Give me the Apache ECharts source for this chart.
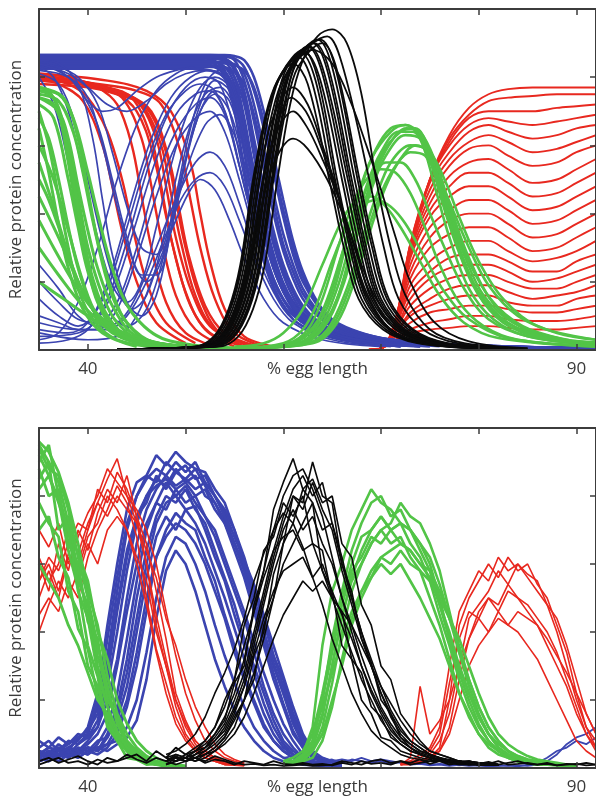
<!DOCTYPE html>
<html><head><meta charset="utf-8">
<script src="https://cdn.jsdelivr.net/npm/echarts@6/dist/echarts.min.js"></script>
<style>html,body{margin:0;padding:0;background:#fff}#c{width:596px;height:800px}</style>
</head><body><div id="c"></div>
<script>
// ---------- axis ticks / labels ----------
const xTicks = [40, 50, 60, 70, 80, 90];
const xLabels = [40, 90];
const xName = '% egg length';
const yName = 'Relative protein concentration';

// ---------- TOP PANEL (model) ----------
const tBlueX = [35,48,51,52.5,54,55,56,57,58,59,60,61,62,63.5,65,67,70,74,80,86,92];
const tBlueBand = [
 [0.86,0.86,0.86,0.85,0.8,0.7,0.53,0.37,0.26,0.18,0.13,0.09,0.07,0.05,0.04,0.03,0.02,0.015,0.01,0.006,0.004],
 [0.86,0.86,0.86,0.855,0.82,0.74,0.58,0.42,0.3,0.21,0.15,0.105,0.08,0.055,0.042,0.032,0.022,0.016,0.01,0.006,0.004],
 [0.825,0.825,0.825,0.82,0.8,0.75,0.64,0.5,0.38,0.27,0.19,0.14,0.1,0.068,0.05,0.036,0.024,0.017,0.011,0.007,0.004],
 [0.84,0.84,0.84,0.835,0.81,0.76,0.64,0.47,0.34,0.24,0.17,0.12,0.09,0.06,0.045,0.034,0.023,0.017,0.011,0.007,0.004],
 [0.85,0.85,0.85,0.848,0.83,0.78,0.66,0.5,0.36,0.25,0.18,0.125,0.095,0.063,0.047,0.035,0.024,0.017,0.011,0.007,0.004],
 [0.862,0.862,0.862,0.86,0.845,0.8,0.68,0.52,0.38,0.27,0.19,0.135,0.1,0.067,0.05,0.036,0.025,0.017,0.011,0.007,0.004],
 [0.835,0.835,0.835,0.835,0.83,0.8,0.72,0.57,0.43,0.31,0.22,0.155,0.11,0.075,0.055,0.04,0.026,0.018,0.012,0.007,0.005],
 [0.855,0.855,0.855,0.855,0.85,0.82,0.74,0.6,0.46,0.33,0.235,0.17,0.12,0.08,0.058,0.042,0.027,0.018,0.012,0.007,0.005],
 [0.86,0.86,0.86,0.86,0.855,0.83,0.76,0.62,0.48,0.35,0.25,0.18,0.13,0.085,0.06,0.043,0.028,0.019,0.012,0.007,0.005],
 [0.83,0.83,0.83,0.83,0.828,0.815,0.78,0.69,0.56,0.43,0.31,0.23,0.165,0.108,0.073,0.05,0.031,0.02,0.012,0.008,0.005],
 [0.865,0.865,0.865,0.865,0.862,0.85,0.79,0.67,0.53,0.4,0.29,0.21,0.15,0.1,0.068,0.047,0.03,0.02,0.012,0.008,0.005],
 [0.845,0.845,0.845,0.845,0.845,0.838,0.81,0.72,0.59,0.46,0.34,0.25,0.18,0.115,0.077,0.052,0.032,0.021,0.013,0.008,0.005],
 [0.84,0.84,0.84,0.84,0.84,0.835,0.82,0.77,0.67,0.54,0.41,0.3,0.215,0.135,0.088,0.058,0.035,0.022,0.013,0.008,0.005],
 [0.86,0.86,0.86,0.86,0.86,0.855,0.83,0.76,0.65,0.52,0.39,0.28,0.2,0.13,0.085,0.056,0.034,0.022,0.013,0.008,0.005],
 [0.865,0.865,0.865,0.865,0.865,0.862,0.85,0.8,0.7,0.57,0.44,0.32,0.23,0.14,0.09,0.06,0.035,0.022,0.013,0.008,0.005]
];
const tBlueFan = [
 [[35,0.02],[38,0.03],[40,0.06],[42,0.15],[44,0.32],[46,0.52],[48,0.68],[50,0.77],[52,0.8],[53.5,0.78],[55,0.64],[56.5,0.44],[58,0.28],[60,0.15],[63,0.07],[68,0.03],[76,0.01]],
 [[35,0.04],[39,0.05],[41,0.09],[43,0.2],[45,0.38],[47,0.56],[49,0.69],[51,0.75],[52.5,0.76],[54,0.7],[55.5,0.54],[57,0.37],[59,0.2],[61,0.11],[65,0.04],[72,0.01]],
 [[35,0.1],[37,0.08],[39,0.06],[41,0.06],[43,0.12],[45,0.27],[47,0.45],[49,0.6],[51,0.68],[52.5,0.7],[54,0.64],[55.5,0.5],[57,0.35],[59,0.19],[61,0.1],[65,0.04],[72,0.01]],
 [[35,0.25],[37,0.18],[39,0.1],[41,0.07],[43,0.08],[45,0.16],[47,0.3],[49,0.44],[51,0.55],[52.5,0.58],[54,0.54],[55.5,0.43],[57,0.3],[59,0.17],[61,0.09],[65,0.035],[72,0.01]],
 [[35,0.05],[40,0.03],[43,0.04],[45,0.1],[47,0.24],[49,0.38],[50.5,0.47],[51.5,0.5],[53,0.47],[54.5,0.38],[56,0.27],[58,0.15],[60,0.08],[64,0.03],[70,0.01]],
 [[35,0.83],[37,0.82],[39,0.77],[41,0.66],[42.5,0.5],[44,0.33],[45.5,0.22],[47,0.22],[48.5,0.35],[50,0.55],[51.5,0.7],[53,0.75],[54.5,0.7],[56,0.55],[57.5,0.38],[59.5,0.2],[62,0.09],[66,0.03],[74,0.01]],
 [[35,0.82],[38,0.8],[40,0.74],[41.5,0.6],[43,0.42],[44.5,0.27],[46,0.2],[47.5,0.26],[49,0.45],[50.5,0.65],[52,0.78],[53.5,0.82],[55,0.77],[56.5,0.6],[58,0.4],[60,0.2],[62.5,0.09],[67,0.03],[75,0.01]],
 [[35,0.84],[38,0.8],[40,0.73],[41.5,0.7],[43,0.71],[45,0.76],[47,0.8],[49,0.82],[51,0.83],[53,0.83],[54.5,0.8],[56,0.66],[57.5,0.46],[59,0.28],[61,0.14],[64,0.06],[70,0.02]],
 [[35,0.85],[37,0.84],[39,0.78],[40.5,0.62],[41.5,0.44],[42.5,0.28],[44,0.14],[45.5,0.1],[47,0.16],[48.5,0.35],[50,0.56],[51.5,0.72],[53,0.79],[54.5,0.76],[56,0.6],[57.5,0.42],[59.5,0.22],[62,0.1],[66,0.04],[74,0.01]],
 [[35,0.8],[36.5,0.72],[38,0.55],[39.5,0.36],[41,0.2],[42.5,0.1],[44,0.07],[46,0.12],[48,0.3],[50,0.52],[52,0.66],[53.5,0.69],[55,0.63],[56.5,0.48],[58,0.33],[60,0.17],[63,0.07],[68,0.02]],
 [[35,0.03],[37,0.05],[39,0.14],[41,0.3],[43,0.5],[45,0.66],[47,0.76],[49,0.81],[51,0.83],[53,0.83],[54.5,0.79],[56,0.64],[57.5,0.45],[59,0.28],[61,0.14],[64,0.06],[70,0.02]],
 [[35,0.15],[37,0.1],[39,0.07],[40.5,0.1],[42.5,0.24],[44.5,0.44],[46.5,0.62],[48.5,0.74],[50.5,0.8],[52.5,0.82],[54,0.8],[55.5,0.68],[57,0.49],[58.5,0.31],[60.5,0.16],[63.5,0.07],[69,0.02]],
 [[35,0.84],[37,0.83],[39,0.8],[41,0.72],[42.5,0.58],[44,0.42],[45.5,0.3],[47,0.28],[48.5,0.38],[50,0.56],[51.5,0.7],[53,0.76],[54.5,0.73],[56,0.58],[57.5,0.4],[59.5,0.21],[62,0.09],[66,0.03],[74,0.01]],
 [[35,0.06],[38,0.05],[40,0.08],[42,0.18],[44,0.36],[46,0.55],[48,0.69],[50,0.76],[51.5,0.78],[53,0.76],[54.5,0.66],[56,0.48],[57.5,0.32],[59.5,0.17],[62,0.08],[67,0.03],[75,0.01]],
 [[35,0.2],[37,0.14],[39,0.09],[41,0.08],[43,0.14],[45,0.3],[47,0.5],[49,0.64],[51,0.72],[52.5,0.74],[54,0.69],[55.5,0.54],[57,0.38],[59,0.21],[61,0.11],[65,0.04],[72,0.01]],
 [[35,0.83],[36.5,0.8],[38,0.7],[39.5,0.52],[41,0.33],[42.5,0.19],[44,0.14],[45.5,0.2],[47,0.36],[48.5,0.54],[50,0.68],[51.5,0.77],[53,0.8],[54.5,0.77],[56,0.62],[57.5,0.43],[59.5,0.23],[62,0.1],[66,0.04],[74,0.01]],
 [[35,0.08],[39,0.06],[42,0.06],[44,0.1],[46,0.2],[48,0.34],[49.5,0.44],[51,0.5],[52.5,0.52],[54,0.48],[55.5,0.38],[57,0.27],[59,0.15],[61,0.08],[65,0.03],[71,0.01]],
 [[35,0.84],[38,0.81],[40,0.77],[42,0.72],[44,0.7],[46,0.73],[48,0.78],[50,0.81],[52,0.82],[53.5,0.81],[55,0.74],[56.5,0.56],[58,0.36],[60,0.18],[63,0.07],[68,0.02]],
 [[35,0.81],[37,0.78],[38.5,0.68],[40,0.5],[41.5,0.32],[43,0.18],[44.5,0.12],[46,0.16],[47.5,0.3],[49,0.5],[50.5,0.66],[52,0.75],[53.5,0.77],[55,0.71],[56.5,0.54],[58,0.37],[60,0.19],[63,0.07],[68,0.02]]
];
const tRedLeft = [
 [[35,0.81],[38,0.8],[41,0.77],[43,0.72],[44.5,0.6],[45.5,0.45],[46.5,0.3],[48,0.14],[50,0.05],[53,0.01]],
 [[35,0.8],[38,0.79],[41,0.77],[43.5,0.74],[45.5,0.62],[46.5,0.48],[47.5,0.33],[49,0.16],[51,0.06],[54,0.01]],
 [[35,0.8],[39,0.79],[42,0.77],[44.5,0.74],[46.5,0.62],[47.5,0.48],[48.5,0.33],[50,0.17],[52,0.06],[55,0.01]],
 [[35,0.79],[39,0.78],[42,0.76],[45,0.73],[47,0.62],[48,0.48],[49,0.33],[50.5,0.18],[52.5,0.07],[56,0.01]],
 [[35,0.79],[40,0.78],[43,0.76],[45.5,0.72],[47.5,0.6],[48.5,0.46],[49.5,0.32],[51,0.16],[53,0.06],[57,0.01]],
 [[35,0.78],[40,0.77],[43,0.75],[46,0.71],[48,0.58],[49,0.44],[50,0.3],[51.5,0.15],[53.5,0.05],[57,0.01]],
 [[35,0.8],[41,0.78],[45,0.76],[47.5,0.72],[49.5,0.58],[50.5,0.44],[51.5,0.3],[53,0.15],[55,0.05],[58,0.01]],
 [[35,0.81],[42,0.79],[46,0.76],[48.5,0.7],[50.5,0.55],[51.5,0.4],[52.5,0.26],[54,0.12],[56,0.04],[59,0.01]],
 [[35,0.8],[38,0.78],[40,0.74],[42,0.64],[43.5,0.5],[44.5,0.37],[46,0.2],[48,0.08],[51,0.02]],
 [[35,0.79],[37,0.78],[39.5,0.73],[41.5,0.6],[42.5,0.48],[43.5,0.35],[45,0.2],[47,0.08],[50,0.02]],
 [[35,0.805],[39,0.79],[42.5,0.76],[45,0.7],[46.8,0.56],[47.8,0.42],[49,0.27],[50.5,0.13],[52.5,0.05],[56,0.01]],
 [[35,0.795],[40,0.78],[44,0.75],[46.5,0.7],[48.3,0.56],[49.3,0.42],[50.3,0.28],[52,0.13],[54,0.05],[57.5,0.01]]
];
const tGreenLeft = [
 [[35,0.77],[36,0.76],[37,0.7],[38,0.55],[39,0.38],[40,0.24],[41,0.14],[43,0.05],[46,0.015],[52,0.005]],
 [[35,0.74],[36.5,0.72],[38,0.6],[39,0.45],[40,0.3],[41.5,0.16],[43,0.08],[46,0.02],[54,0.005]],
 [[35,0.7],[36,0.6],[37,0.45],[38,0.3],[39,0.18],[40.5,0.09],[43,0.03],[48,0.005]],
 [[35,0.65],[36,0.52],[37,0.37],[38,0.24],[39.5,0.12],[41.5,0.05],[45,0.01]],
 [[35,0.77],[37.5,0.74],[39,0.62],[40,0.47],[41,0.32],[42.5,0.17],[44,0.08],[47,0.02],[55,0.005]],
 [[35,0.55],[36.5,0.42],[38,0.28],[39.5,0.17],[41.5,0.08],[44,0.03],[50,0.005]],
 [[35,0.45],[37,0.33],[39,0.2],[41,0.1],[44,0.04],[50,0.01]],
 [[35,0.3],[37,0.22],[39.5,0.13],[42,0.07],[46,0.02],[54,0.005]],
 [[35,0.75],[37,0.73],[38.5,0.64],[39.5,0.52],[40.5,0.38],[42,0.2],[43.5,0.1],[46,0.03],[52,0.005]],
 [[35,0.6],[36.5,0.5],[38,0.35],[39.5,0.2],[41,0.1],[43.5,0.04],[48,0.01]],
 [[35,0.2],[37.5,0.15],[40,0.1],[43,0.05],[47,0.02],[54,0.005]],
 [[35,0.72],[36.5,0.68],[38,0.5],[39,0.36],[40,0.23],[41.5,0.12],[44,0.04],[50,0.01]],
 [[35,0.76],[37,0.75],[38.5,0.68],[40,0.52],[41,0.4],[42.5,0.24],[44.5,0.11],[48,0.03],[56,0.005]],
 [[35,0.76],[36.5,0.74],[37.5,0.66],[38.5,0.5],[39.5,0.34],[40.5,0.21],[42,0.1],[44.5,0.03],[50,0.005]],
 [[35,0.68],[36,0.62],[37,0.5],[38,0.36],[39,0.24],[40.5,0.12],[42.5,0.05],[47,0.01]],
 [[35,0.5],[36,0.44],[37.5,0.32],[39,0.2],[40.5,0.12],[42.5,0.06],[46,0.02],[52,0.005]],
 [[35,0.38],[36.5,0.3],[38.5,0.2],[40.5,0.12],[43,0.06],[47,0.02],[54,0.005]],
 [[35,0.74],[37,0.7],[38,0.62],[39,0.48],[40,0.35],[41,0.24],[42.5,0.13],[45,0.04],[51,0.005]]
];
const tGreenMid = [
 [[55,0.005],[60,0.015],[62.5,0.05],[64.5,0.14],[66,0.28],[67.5,0.44],[69,0.56],[71,0.64],[72.5,0.66],[74,0.62],[75.5,0.48],[77,0.33],[79,0.18],[81.5,0.09],[85,0.04],[92,0.015]],
 [[55,0.005],[61,0.015],[63.5,0.05],[65.5,0.15],[67,0.3],[68.5,0.45],[70,0.57],[72,0.64],[73.5,0.65],[75,0.58],[76.5,0.44],[78,0.3],[80,0.17],[83,0.08],[87,0.035],[92,0.018]],
 [[55,0.005],[61.5,0.015],[64,0.06],[66,0.18],[67.5,0.33],[69,0.47],[70.5,0.57],[72.5,0.63],[74,0.62],[75.5,0.53],[77,0.4],[78.5,0.28],[80.5,0.16],[83.5,0.08],[88,0.03],[92,0.02]],
 [[55,0.005],[62,0.015],[64.5,0.06],[66.5,0.18],[68,0.32],[69.5,0.45],[71,0.55],[73,0.6],[74.5,0.59],[76,0.5],[77.5,0.37],[79.5,0.23],[82,0.12],[85,0.06],[89,0.03],[92,0.022]],
 [[55,0.005],[60.5,0.02],[62.5,0.06],[64,0.15],[65.5,0.29],[67,0.42],[68.5,0.5],[70,0.53],[71.5,0.52],[73,0.46],[74.5,0.36],[76,0.25],[78,0.14],[80.5,0.07],[84,0.03],[92,0.012]],
 [[55,0.005],[62.5,0.02],[65,0.07],[67,0.2],[68.5,0.34],[70,0.46],[71.5,0.54],[73,0.58],[74.5,0.57],[76,0.5],[77.5,0.4],[79,0.3],[81,0.19],[84,0.1],[88,0.05],[92,0.03]],
 [[55,0.01],[58,0.02],[60,0.05],[62,0.12],[64,0.25],[66,0.38],[67.5,0.44],[69,0.45],[70.5,0.42],[72,0.36],[74,0.26],[76,0.16],[78.5,0.08],[82,0.035],[92,0.01]],
 [[55,0.005],[61,0.015],[63,0.05],[65,0.16],[66.5,0.32],[68,0.48],[69.5,0.59],[71,0.65],[72.5,0.66],[74,0.63],[75.5,0.52],[77,0.38],[78.5,0.26],[80.5,0.14],[83.5,0.07],[88,0.03],[92,0.02]],
 [[55,0.005],[63,0.02],[65.5,0.08],[67.5,0.22],[69,0.36],[70.5,0.48],[72,0.56],[73.5,0.6],[75,0.58],[76.5,0.5],[78,0.39],[80,0.26],[82.5,0.15],[86,0.07],[92,0.03]],
 [[55,0.005],[61,0.02],[63,0.06],[64.5,0.15],[66,0.28],[67.5,0.4],[69,0.5],[70.5,0.55],[72,0.55],[73.5,0.5],[75,0.4],[76.5,0.3],[78.5,0.18],[81,0.09],[85,0.04],[92,0.015]],
 [[55,0.005],[61.5,0.02],[63.8,0.07],[65.5,0.18],[67,0.33],[68.5,0.48],[70,0.58],[71.8,0.64],[73.2,0.64],[74.8,0.57],[76.3,0.43],[77.8,0.3],[79.8,0.17],[82.5,0.08],[86.5,0.035],[92,0.02]],
 [[55,0.005],[62,0.02],[64.2,0.07],[66,0.19],[67.6,0.35],[69.2,0.5],[70.8,0.6],[72.6,0.65],[74,0.64],[75.6,0.55],[77.2,0.41],[79,0.27],[81.2,0.15],[84.5,0.07],[89,0.03],[92,0.022]],
 [[55,0.005],[60,0.02],[62,0.06],[63.5,0.14],[65,0.26],[66.5,0.36],[68,0.42],[69.5,0.44],[71,0.42],[72.5,0.37],[74.5,0.27],[76.5,0.17],[79,0.09],[83,0.035],[92,0.01]]
];
const tRedRightX = [68,70,71.5,73,75,77,79,81,83,85.5,88,90,92];
const tRedRight = [
 [0,0.005,0.06,0.28,0.5,0.63,0.71,0.75,0.765,0.77,0.77,0.77,0.77],
 [0,0.005,0.07,0.3,0.5,0.62,0.69,0.73,0.74,0.745,0.75,0.75,0.75],
 [0,0.005,0.08,0.3,0.5,0.61,0.68,0.7,0.7,0.7,0.71,0.715,0.72],
 [0,0.005,0.08,0.31,0.5,0.6,0.66,0.68,0.67,0.66,0.67,0.68,0.69],
 [0,0.005,0.08,0.31,0.49,0.58,0.64,0.66,0.64,0.62,0.63,0.65,0.66],
 [0,0.005,0.09,0.31,0.47,0.56,0.61,0.63,0.61,0.58,0.59,0.61,0.63],
 [0,0.005,0.09,0.3,0.45,0.54,0.59,0.6,0.57,0.54,0.55,0.58,0.6],
 [0,0.005,0.09,0.29,0.43,0.51,0.55,0.56,0.53,0.49,0.5,0.53,0.56],
 [0,0.005,0.09,0.28,0.41,0.48,0.52,0.52,0.49,0.45,0.46,0.49,0.52],
 [0,0.005,0.09,0.27,0.39,0.45,0.48,0.48,0.45,0.41,0.42,0.45,0.48],
 [0,0.005,0.09,0.25,0.36,0.41,0.44,0.44,0.41,0.37,0.38,0.41,0.44],
 [0,0.005,0.08,0.23,0.33,0.38,0.4,0.4,0.37,0.33,0.34,0.37,0.4],
 [0,0.005,0.08,0.21,0.3,0.34,0.36,0.36,0.33,0.29,0.3,0.33,0.36],
 [0,0.005,0.07,0.19,0.26,0.3,0.32,0.32,0.29,0.26,0.27,0.29,0.32],
 [0,0.005,0.07,0.17,0.23,0.27,0.28,0.28,0.26,0.23,0.23,0.26,0.28],
 [0,0.005,0.06,0.15,0.21,0.24,0.25,0.25,0.23,0.2,0.21,0.23,0.25],
 [0,0.005,0.06,0.13,0.18,0.21,0.22,0.22,0.2,0.18,0.18,0.2,0.22],
 [0,0.005,0.05,0.11,0.15,0.18,0.19,0.19,0.17,0.15,0.16,0.17,0.19],
 [0,0.005,0.05,0.1,0.13,0.15,0.16,0.16,0.14,0.13,0.13,0.15,0.16],
 [0,0.005,0.04,0.08,0.11,0.12,0.13,0.13,0.12,0.11,0.11,0.12,0.13],
 [0,0.005,0.03,0.06,0.08,0.09,0.1,0.1,0.09,0.085,0.085,0.09,0.1],
 [0,0.005,0.03,0.05,0.06,0.065,0.07,0.07,0.065,0.06,0.06,0.065,0.07]
];
const tBlack = [
 [[43,0.003],[51,0.01],[53,0.04],[54.5,0.12],[55.7,0.25],[57,0.5],[58.3,0.69],[59.5,0.79],[61.5,0.86],[63,0.78],[65,0.5],[66.5,0.3],[68,0.15],[70.5,0.06],[74,0.02],[80,0.005]],
 [[43,0.003],[51.1,0.01],[53.1,0.04],[54.6,0.12],[55.8,0.25],[57.1,0.5],[58.4,0.7],[59.6,0.8],[61.8,0.87],[63.3,0.79],[65.3,0.5],[66.8,0.3],[68.3,0.15],[70.8,0.06],[74.3,0.02],[80,0.005]],
 [[43,0.003],[51.3,0.01],[53.3,0.04],[54.8,0.12],[56,0.25],[57.3,0.5],[58.6,0.7],[59.8,0.81],[62,0.88],[63.5,0.8],[65.5,0.5],[67,0.3],[68.5,0.15],[71,0.06],[74.5,0.02],[81,0.005]],
 [[43,0.003],[51.6,0.01],[53.6,0.04],[55.1,0.12],[56.3,0.25],[57.6,0.5],[58.9,0.7],[60.1,0.8],[62.3,0.87],[63.8,0.79],[66,0.5],[67.5,0.3],[69,0.15],[71.5,0.06],[75,0.02],[81,0.005]],
 [[43,0.003],[51.9,0.01],[53.9,0.04],[55.4,0.12],[56.6,0.25],[57.9,0.5],[59.2,0.71],[60.4,0.83],[62.7,0.89],[64.2,0.81],[66.6,0.5],[68.1,0.3],[69.6,0.15],[72.1,0.06],[75.6,0.02],[82,0.005]],
 [[43,0.003],[52,0.01],[54,0.04],[55.5,0.12],[56.7,0.25],[58,0.5],[59.3,0.71],[60.5,0.82],[62.5,0.89],[64,0.81],[66.3,0.5],[67.8,0.3],[69.3,0.15],[71.8,0.06],[75.3,0.02],[82,0.005]],
 [[43,0.003],[52.3,0.01],[54.3,0.04],[55.8,0.12],[57,0.25],[58.3,0.5],[59.6,0.71],[60.8,0.83],[63,0.9],[64.5,0.82],[66.8,0.5],[68.3,0.3],[69.8,0.15],[72.3,0.06],[75.8,0.02],[82,0.005]],
 [[43,0.003],[52.5,0.01],[54.5,0.04],[56,0.12],[57.2,0.25],[58.5,0.5],[59.8,0.72],[61,0.84],[63.2,0.9],[64.7,0.82],[67,0.5],[68.5,0.3],[70,0.15],[72.5,0.06],[76,0.02],[83,0.005]],
 [[43,0.003],[52.6,0.01],[54.6,0.04],[56.1,0.12],[57.3,0.25],[58.6,0.5],[59.9,0.72],[61.1,0.84],[63.5,0.91],[65,0.83],[67.3,0.5],[68.8,0.3],[70.3,0.15],[72.8,0.06],[76.3,0.02],[83,0.005]],
 [[43,0.003],[52.9,0.01],[54.9,0.04],[56.4,0.12],[57.6,0.25],[58.9,0.5],[60.2,0.72],[61.4,0.85],[63.8,0.91],[65.3,0.83],[67.6,0.5],[69.1,0.3],[70.6,0.15],[73.1,0.06],[76.6,0.02],[83,0.005]],
 [[43,0.003],[53,0.01],[55,0.04],[56.5,0.12],[57.7,0.25],[59,0.5],[60.3,0.71],[61.5,0.83],[64,0.9],[65.5,0.82],[67.8,0.5],[69.3,0.3],[70.8,0.15],[73.3,0.06],[76.8,0.02],[83,0.005]],
 [[43,0.003],[53.4,0.01],[55.4,0.04],[56.9,0.12],[58.1,0.25],[59.4,0.5],[60.7,0.72],[62,0.85],[63.5,0.92],[65,0.94],[66.5,0.9],[68,0.75],[69.5,0.5],[71,0.3],[72.5,0.16],[75,0.06],[78.5,0.02],[85,0.005]],
 [[43,0.003],[52.8,0.01],[54.8,0.04],[56.3,0.12],[57.5,0.25],[58.8,0.5],[60.1,0.72],[61.3,0.84],[63,0.9],[64.5,0.92],[66,0.84],[68.8,0.5],[70.3,0.3],[71.8,0.15],[74.3,0.06],[77.8,0.02],[84,0.005]],
 [[43,0.003],[51.5,0.01],[53.5,0.04],[55,0.12],[56.2,0.25],[57.5,0.5],[58.8,0.67],[61,0.77],[62.5,0.72],[64,0.6],[65.5,0.47],[67,0.3],[68.5,0.16],[71,0.06],[74.5,0.02],[81,0.005]],
 [[43,0.003],[51.7,0.01],[53.7,0.04],[55.2,0.12],[56.4,0.25],[57.7,0.46],[59,0.62],[60.8,0.74],[62.3,0.7],[63.8,0.6],[65.5,0.46],[67,0.31],[68.5,0.17],[71,0.06],[74.5,0.02],[81,0.005]],
 [[43,0.003],[51.8,0.01],[53.8,0.04],[55.3,0.12],[56.5,0.25],[57.8,0.48],[59.2,0.63],[61,0.7],[62.5,0.65],[64,0.56],[66,0.42],[67.5,0.28],[69,0.16],[71.5,0.06],[75,0.02],[81,0.005]],
 [[43,0.003],[52,0.01],[54,0.04],[55.5,0.12],[56.7,0.25],[58,0.45],[59.4,0.57],[61,0.62],[62.5,0.59],[64.5,0.5],[66.5,0.37],[68,0.25],[69.5,0.15],[72,0.06],[75.5,0.02],[82,0.005]],
 [[43,0.003],[50.9,0.01],[52.9,0.04],[54.4,0.12],[55.6,0.25],[56.9,0.5],[58.2,0.69],[59.4,0.79],[61,0.84],[62.5,0.78],[64.7,0.5],[66.2,0.3],[67.7,0.15],[70.2,0.06],[73.7,0.02],[80,0.005]],
 [[43,0.003],[52.2,0.01],[54.2,0.04],[55.7,0.12],[56.9,0.25],[58.2,0.5],[59.5,0.71],[60.7,0.82],[63,0.88],[65,0.84],[67,0.72],[68.5,0.6],[70,0.47],[71.5,0.33],[73,0.2],[75.5,0.08],[79,0.025],[85,0.005]]
];

// ---------- BOTTOM PANEL (data) ----------
const bBlueX = [35,36,37,38,39,40,41,42,43,44,45,46,47,48,49,50,51,52,53,54,55,56,57,58,59,60,61,62,63,64,65,66];
const bBlue = [
 [0.03,0.05,0.04,0.06,0.08,0.12,0.22,0.42,0.6,0.76,0.84,0.86,0.92,0.89,0.93,0.9,0.88,0.87,0.82,0.78,0.7,0.62,0.52,0.44,0.33,0.26,0.16,0.09,0.04,0.025,0.02,0.015],
 [0.05,0.04,0.07,0.05,0.09,0.1,0.18,0.33,0.52,0.7,0.8,0.86,0.84,0.9,0.87,0.89,0.85,0.86,0.8,0.76,0.7,0.6,0.5,0.4,0.3,0.22,0.14,0.07,0.04,0.02,0.015,0.01],
 [0.04,0.06,0.05,0.08,0.07,0.1,0.2,0.38,0.56,0.72,0.8,0.85,0.88,0.86,0.9,0.87,0.9,0.84,0.8,0.75,0.68,0.61,0.54,0.45,0.36,0.27,0.18,0.1,0.05,0.03,0.02,0.015],
 [0.05,0.03,0.06,0.04,0.07,0.09,0.14,0.27,0.46,0.62,0.74,0.78,0.86,0.82,0.87,0.85,0.88,0.83,0.78,0.73,0.66,0.58,0.49,0.4,0.31,0.22,0.13,0.07,0.04,0.02,0.015,0.01],
 [0.02,0.03,0.02,0.04,0.05,0.08,0.12,0.24,0.4,0.58,0.72,0.8,0.85,0.83,0.88,0.84,0.86,0.8,0.78,0.72,0.64,0.56,0.46,0.36,0.26,0.18,0.1,0.06,0.03,0.02,0.01,0.01],
 [0.08,0.06,0.09,0.07,0.1,0.09,0.12,0.2,0.32,0.5,0.66,0.76,0.82,0.86,0.83,0.85,0.82,0.84,0.8,0.74,0.66,0.58,0.48,0.38,0.28,0.19,0.11,0.06,0.03,0.02,0.015,0.01],
 [0.03,0.05,0.03,0.06,0.05,0.07,0.1,0.16,0.3,0.46,0.6,0.72,0.78,0.76,0.82,0.78,0.8,0.74,0.7,0.62,0.54,0.46,0.37,0.28,0.2,0.13,0.08,0.04,0.02,0.015,0.01,0.008],
 [0.03,0.02,0.04,0.03,0.05,0.04,0.07,0.12,0.22,0.38,0.55,0.7,0.78,0.84,0.8,0.83,0.78,0.74,0.68,0.6,0.52,0.44,0.34,0.24,0.16,0.1,0.06,0.03,0.02,0.01,0.01,0.008],
 [0.02,0.04,0.03,0.05,0.04,0.06,0.05,0.1,0.18,0.32,0.5,0.64,0.74,0.8,0.78,0.82,0.76,0.72,0.64,0.56,0.48,0.38,0.3,0.22,0.14,0.08,0.05,0.03,0.02,0.012,0.01,0.008],
 [0.04,0.06,0.05,0.03,0.05,0.06,0.05,0.09,0.16,0.28,0.44,0.6,0.72,0.78,0.8,0.76,0.77,0.7,0.62,0.55,0.45,0.36,0.28,0.19,0.12,0.07,0.04,0.03,0.02,0.01,0.008,0.006],
 [0.04,0.03,0.05,0.04,0.06,0.05,0.08,0.09,0.14,0.24,0.4,0.56,0.68,0.74,0.7,0.76,0.72,0.66,0.58,0.5,0.41,0.32,0.24,0.16,0.1,0.06,0.04,0.025,0.015,0.01,0.008,0.006],
 [0.03,0.02,0.04,0.05,0.03,0.05,0.06,0.07,0.12,0.2,0.34,0.5,0.62,0.68,0.72,0.7,0.66,0.6,0.52,0.44,0.34,0.26,0.19,0.12,0.08,0.05,0.03,0.02,0.015,0.01,0.008,0.006],
 [0.02,0.03,0.02,0.04,0.03,0.05,0.04,0.06,0.1,0.18,0.3,0.46,0.62,0.7,0.75,0.72,0.7,0.62,0.55,0.45,0.36,0.27,0.2,0.13,0.08,0.05,0.03,0.02,0.01,0.01,0.006,0.005],
 [0.05,0.04,0.06,0.05,0.04,0.06,0.05,0.07,0.08,0.12,0.2,0.34,0.5,0.62,0.68,0.66,0.6,0.52,0.42,0.33,0.25,0.18,0.12,0.08,0.05,0.03,0.02,0.015,0.01,0.008,0.006,0.005],
 [0.03,0.05,0.04,0.06,0.05,0.04,0.06,0.05,0.07,0.09,0.14,0.26,0.44,0.58,0.64,0.6,0.52,0.42,0.32,0.24,0.17,0.12,0.08,0.05,0.03,0.02,0.015,0.01,0.008,0.006,0.005,0.005],
 [0.06,0.08,0.05,0.07,0.09,0.11,0.16,0.3,0.48,0.64,0.74,0.8,0.83,0.85,0.82,0.84,0.8,0.82,0.76,0.72,0.66,0.6,0.52,0.43,0.33,0.24,0.15,0.08,0.04,0.02,0.015,0.01]
];
const bBlueTailX = [60,61,62,63,64,65,66,67,68,69,70,71,72,73,74,75,76,77,78,79,80,81,82,83,84,85,86,87,88,89,90,91,92];
const bBlueTail = [
 [0.05,0.04,0.03,0.025,0.03,0.02,0.025,0.02,0.03,0.02,0.025,0.02,0.015,0.02,0.015,0.01,0.012,0.01,0.008,0.01,0.008,0.006,0.008,0.006,0.008,0.006,0.01,0.02,0.04,0.07,0.09,0.1,0.12],
 [0.03,0.035,0.02,0.03,0.02,0.025,0.015,0.025,0.02,0.015,0.02,0.012,0.018,0.01,0.012,0.008,0.01,0.006,0.009,0.006,0.008,0.005,0.006,0.008,0.005,0.01,0.015,0.03,0.05,0.06,0.08,0.07,0.09]
];
const bRedLeftX = [35,36,37,38,39,40,41,42,43,44,45,46,47,48,49,50,51,52,53,54,55,56];
const bRedLeft = [
 [0.55,0.6,0.52,0.63,0.6,0.7,0.78,0.85,0.91,0.8,0.72,0.6,0.42,0.3,0.18,0.1,0.06,0.03,0.02,0.012,0.01,0.008],
 [0.6,0.52,0.66,0.58,0.7,0.64,0.75,0.82,0.78,0.86,0.74,0.66,0.52,0.38,0.22,0.14,0.08,0.05,0.03,0.02,0.012,0.01],
 [0.45,0.5,0.46,0.55,0.5,0.62,0.7,0.76,0.83,0.78,0.68,0.5,0.35,0.25,0.15,0.09,0.05,0.03,0.02,0.01,0.01,0.008],
 [0.7,0.65,0.72,0.6,0.68,0.75,0.8,0.88,0.84,0.8,0.76,0.7,0.6,0.46,0.33,0.22,0.14,0.08,0.05,0.03,0.02,0.012],
 [0.5,0.58,0.5,0.62,0.56,0.66,0.6,0.7,0.74,0.7,0.62,0.55,0.4,0.3,0.2,0.12,0.07,0.04,0.025,0.015,0.01,0.008],
 [0.62,0.55,0.6,0.7,0.63,0.72,0.78,0.74,0.8,0.76,0.72,0.64,0.56,0.44,0.36,0.26,0.18,0.12,0.07,0.04,0.025,0.015],
 [0.4,0.48,0.55,0.5,0.58,0.68,0.72,0.8,0.76,0.7,0.6,0.48,0.34,0.22,0.13,0.08,0.05,0.03,0.02,0.01,0.008,0.006],
 [0.55,0.62,0.58,0.66,0.72,0.7,0.82,0.78,0.87,0.82,0.74,0.6,0.45,0.32,0.2,0.13,0.08,0.05,0.03,0.02,0.012,0.01]
];
const bGreenLeftX = [35,36,37,38,39,40,41,42,43,44,45,46,47,48,49,50];
const bGreenLeft = [
 [0.95,0.9,0.84,0.72,0.58,0.45,0.3,0.18,0.1,0.05,0.03,0.02,0.01,0.01,0.005,0.005],
 [0.92,0.86,0.79,0.64,0.53,0.36,0.27,0.12,0.08,0.03,0.025,0.01,0.012,0.005,0.008,0.004],
 [0.85,0.9,0.7,0.74,0.55,0.48,0.33,0.22,0.14,0.07,0.04,0.03,0.015,0.01,0.005,0.005],
 [0.78,0.72,0.68,0.52,0.46,0.3,0.24,0.13,0.09,0.05,0.03,0.02,0.01,0.01,0.005,0.003],
 [0.96,0.93,0.87,0.78,0.66,0.52,0.42,0.27,0.16,0.1,0.06,0.035,0.02,0.012,0.008,0.005],
 [0.7,0.74,0.62,0.56,0.41,0.35,0.21,0.15,0.08,0.05,0.025,0.015,0.01,0.005,0.005,0.003],
 [0.88,0.8,0.82,0.66,0.6,0.43,0.38,0.2,0.15,0.08,0.05,0.03,0.02,0.01,0.008,0.005],
 [0.6,0.55,0.5,0.42,0.36,0.28,0.2,0.16,0.1,0.06,0.04,0.025,0.015,0.01,0.006,0.004],
 [0.9,0.95,0.8,0.7,0.63,0.55,0.4,0.32,0.2,0.13,0.08,0.05,0.03,0.015,0.01,0.006],
 [0.94,0.88,0.86,0.76,0.62,0.5,0.36,0.24,0.13,0.07,0.04,0.025,0.015,0.01,0.006,0.004],
 [0.82,0.86,0.78,0.7,0.52,0.44,0.28,0.18,0.11,0.06,0.035,0.02,0.012,0.008,0.005,0.004]
];
const bBlackX = [48,49,50,51,52,53,54,55,56,57,58,59,60,61,62,63,64,65,66,67,68,69,70,71,72,73,74,75,76,77,78,79,80,81,82];
const bBlack = [
 [0.02,0.03,0.02,0.04,0.06,0.1,0.14,0.25,0.3,0.48,0.58,0.76,0.84,0.91,0.82,0.78,0.58,0.52,0.36,0.32,0.2,0.16,0.09,0.08,0.05,0.04,0.03,0.025,0.02,0.02,0.015,0.02,0.015,0.01,0.01],
 [0.01,0.02,0.03,0.02,0.04,0.06,0.09,0.15,0.2,0.33,0.4,0.57,0.66,0.8,0.78,0.9,0.8,0.78,0.6,0.52,0.38,0.31,0.2,0.16,0.09,0.07,0.05,0.04,0.03,0.02,0.02,0.015,0.01,0.01,0.01],
 [0.03,0.02,0.04,0.05,0.08,0.12,0.2,0.26,0.42,0.5,0.64,0.68,0.78,0.74,0.8,0.66,0.64,0.5,0.46,0.32,0.28,0.18,0.15,0.09,0.07,0.05,0.04,0.03,0.025,0.02,0.02,0.015,0.015,0.01,0.01],
 [0.02,0.03,0.02,0.03,0.05,0.07,0.1,0.16,0.24,0.34,0.44,0.52,0.58,0.6,0.62,0.56,0.6,0.52,0.45,0.38,0.3,0.23,0.17,0.12,0.08,0.06,0.04,0.03,0.025,0.02,0.015,0.015,0.01,0.01,0.008],
 [0.02,0.01,0.02,0.03,0.04,0.05,0.08,0.12,0.2,0.26,0.42,0.5,0.66,0.72,0.82,0.85,0.78,0.8,0.66,0.62,0.48,0.42,0.3,0.26,0.16,0.12,0.08,0.05,0.04,0.03,0.02,0.02,0.015,0.01,0.01],
 [0.03,0.04,0.03,0.05,0.07,0.1,0.15,0.22,0.32,0.46,0.58,0.7,0.8,0.86,0.88,0.82,0.74,0.62,0.5,0.4,0.3,0.22,0.16,0.11,0.08,0.06,0.04,0.03,0.025,0.02,0.02,0.015,0.01,0.01,0.01],
 [0.01,0.02,0.03,0.02,0.03,0.05,0.07,0.1,0.15,0.22,0.3,0.38,0.45,0.5,0.55,0.52,0.55,0.5,0.46,0.42,0.36,0.3,0.24,0.19,0.14,0.1,0.07,0.05,0.04,0.03,0.02,0.02,0.015,0.01,0.01],
 [0.04,0.05,0.07,0.1,0.15,0.22,0.28,0.35,0.44,0.55,0.63,0.7,0.75,0.72,0.65,0.56,0.48,0.38,0.3,0.22,0.16,0.11,0.08,0.06,0.04,0.03,0.025,0.02,0.02,0.015,0.01,0.01,0.01,0.008,0.008],
 [0.02,0.03,0.02,0.03,0.04,0.06,0.09,0.14,0.2,0.28,0.38,0.5,0.6,0.66,0.72,0.78,0.7,0.72,0.6,0.5,0.4,0.32,0.24,0.17,0.12,0.08,0.06,0.04,0.03,0.02,0.02,0.015,0.01,0.01,0.008],
 [0.03,0.02,0.04,0.06,0.08,0.12,0.18,0.26,0.36,0.46,0.56,0.64,0.68,0.7,0.64,0.66,0.58,0.5,0.42,0.34,0.26,0.2,0.14,0.1,0.07,0.05,0.04,0.03,0.02,0.02,0.015,0.01,0.01,0.008,0.008],
 [0.02,0.04,0.03,0.05,0.06,0.09,0.13,0.2,0.28,0.4,0.52,0.64,0.74,0.82,0.86,0.8,0.84,0.72,0.62,0.5,0.4,0.3,0.22,0.15,0.1,0.07,0.05,0.04,0.03,0.02,0.02,0.015,0.01,0.01,0.008],
 [0.01,0.03,0.02,0.04,0.05,0.08,0.11,0.17,0.24,0.36,0.48,0.6,0.7,0.76,0.7,0.74,0.66,0.6,0.5,0.42,0.33,0.25,0.18,0.13,0.09,0.06,0.045,0.035,0.025,0.02,0.015,0.015,0.01,0.01,0.008],
 [0.03,0.02,0.03,0.04,0.06,0.08,0.12,0.18,0.26,0.38,0.5,0.62,0.72,0.8,0.76,0.84,0.76,0.7,0.58,0.48,0.38,0.3,0.22,0.16,0.11,0.08,0.06,0.04,0.03,0.025,0.02,0.015,0.01,0.01,0.008]
];
const bBlackBaseX = [35,36,37,38,39,40,41,42,43,44,45,46,47,48,49,50,51,52,53,54,55,56,57,58,59,60,61,62,63,64,65,66,67,68,69,70,71,72,73,74,75,76,77,78,79,80,81,82,83,84,85,86,87,88,89,90,91,92];
const bBlackBase = [
 [0.02,0.03,0.015,0.025,0.035,0.02,0.01,0.03,0.02,0.04,0.025,0.015,0.03,0.02,0.035,0.02,0.03,0.015,0.025,0.02,0.01,0.02,0.015,0.01,0.02,0.012,0.01,0.015,0.01,0.012,0.008,0.015,0.01,0.02,0.012,0.015,0.01,0.02,0.015,0.025,0.012,0.02,0.01,0.015,0.02,0.012,0.018,0.01,0.015,0.02,0.012,0.01,0.015,0.008,0.012,0.01,0.015,0.01],
 [0.01,0.02,0.03,0.015,0.02,0.01,0.025,0.015,0.02,0.03,0.04,0.02,0.05,0.03,0.06,0.04,0.03,0.02,0.035,0.025,0.015,0.01,0.012,0.008,0.01,0.006,0.008,0.01,0.006,0.008,0.01,0.02,0.015,0.01,0.02,0.025,0.015,0.02,0.01,0.015,0.02,0.025,0.015,0.02,0.01,0.015,0.012,0.02,0.01,0.012,0.015,0.01,0.012,0.008,0.01,0.012,0.008,0.01]
];
const bGreenMidX = [60,61,62,63,64,65,66,67,68,69,70,71,72,73,74,75,76,77,78,79,80,81,82,83,84,85,86,87,88,89,90];
const bGreenMid = [
 [0.01,0.02,0.03,0.08,0.2,0.38,0.52,0.64,0.72,0.78,0.8,0.74,0.76,0.7,0.66,0.6,0.5,0.38,0.28,0.2,0.13,0.08,0.05,0.03,0.02,0.02,0.015,0.01,0.01,0.01,0.008],
 [0.01,0.015,0.02,0.05,0.12,0.25,0.4,0.52,0.6,0.66,0.7,0.72,0.78,0.74,0.72,0.66,0.58,0.46,0.34,0.24,0.16,0.1,0.06,0.04,0.03,0.02,0.015,0.01,0.01,0.008,0.006],
 [0.02,0.01,0.03,0.06,0.15,0.3,0.45,0.55,0.6,0.66,0.7,0.66,0.68,0.62,0.58,0.5,0.42,0.32,0.22,0.15,0.1,0.06,0.04,0.03,0.02,0.015,0.01,0.01,0.008,0.006,0.005],
 [0.01,0.01,0.02,0.03,0.08,0.18,0.32,0.44,0.52,0.58,0.62,0.64,0.66,0.64,0.6,0.58,0.52,0.44,0.36,0.26,0.18,0.12,0.08,0.05,0.03,0.02,0.015,0.01,0.01,0.008,0.006],
 [0.015,0.02,0.04,0.1,0.22,0.36,0.5,0.6,0.68,0.7,0.74,0.7,0.72,0.66,0.62,0.55,0.45,0.36,0.26,0.18,0.12,0.08,0.05,0.035,0.025,0.02,0.015,0.01,0.01,0.008,0.006],
 [0.02,0.03,0.05,0.1,0.18,0.28,0.38,0.46,0.52,0.56,0.6,0.57,0.6,0.55,0.5,0.44,0.38,0.3,0.22,0.16,0.1,0.07,0.05,0.03,0.02,0.015,0.01,0.01,0.008,0.006,0.005],
 [0.01,0.02,0.04,0.12,0.36,0.52,0.6,0.7,0.76,0.82,0.78,0.76,0.72,0.7,0.64,0.58,0.48,0.38,0.3,0.22,0.15,0.1,0.07,0.05,0.035,0.025,0.02,0.015,0.01,0.008,0.006],
 [0.01,0.015,0.025,0.05,0.1,0.2,0.3,0.42,0.5,0.56,0.62,0.6,0.64,0.6,0.58,0.55,0.5,0.44,0.38,0.3,0.22,0.15,0.1,0.07,0.05,0.035,0.025,0.02,0.015,0.01,0.008],
 [0.01,0.02,0.03,0.07,0.16,0.3,0.44,0.56,0.64,0.7,0.74,0.7,0.72,0.7,0.66,0.62,0.54,0.44,0.34,0.26,0.18,0.12,0.08,0.05,0.035,0.025,0.02,0.015,0.01,0.008,0.006],
 [0.015,0.02,0.035,0.08,0.2,0.34,0.48,0.58,0.62,0.68,0.66,0.7,0.66,0.64,0.6,0.56,0.48,0.4,0.3,0.22,0.15,0.1,0.06,0.04,0.03,0.02,0.015,0.01,0.01,0.008,0.006]
];
const bRedRightX = [72,73,74,75,76,77,78,79,80,81,82,83,84,85,86,87,88,89,90,91,92];
const bRedRight = [
 [0.01,0.015,0.02,0.03,0.06,0.2,0.42,0.5,0.55,0.6,0.56,0.62,0.58,0.6,0.54,0.5,0.42,0.34,0.22,0.12,0.06],
 [0.01,0.02,0.015,0.04,0.08,0.16,0.3,0.44,0.48,0.52,0.58,0.54,0.6,0.56,0.52,0.48,0.4,0.3,0.2,0.12,0.08],
 [0.02,0.015,0.03,0.05,0.1,0.25,0.38,0.46,0.44,0.5,0.48,0.54,0.5,0.48,0.44,0.4,0.34,0.26,0.18,0.1,0.06],
 [0.01,0.01,0.02,0.03,0.05,0.12,0.26,0.38,0.46,0.5,0.46,0.52,0.5,0.46,0.42,0.36,0.3,0.24,0.16,0.1,0.05],
 [0.015,0.02,0.04,0.06,0.12,0.3,0.46,0.52,0.58,0.55,0.62,0.58,0.6,0.57,0.55,0.48,0.44,0.36,0.26,0.16,0.1],
 [0.01,0.03,0.24,0.1,0.14,0.2,0.3,0.38,0.44,0.4,0.46,0.42,0.4,0.36,0.32,0.26,0.2,0.14,0.08,0.05,0.03],
 [0.01,0.015,0.02,0.03,0.05,0.1,0.2,0.3,0.36,0.4,0.44,0.42,0.46,0.44,0.42,0.38,0.33,0.28,0.22,0.16,0.1]
];

// ---------- colours ----------
const BLUE = '#3b44b0', RED = '#e8281f', GREEN = '#52c447', BLACK = '#0a0a0a';
const FONT = 'Open Sans';
const TXT = '#3a3a3a';

const series = [];
function addPairs(list, color, width, g, smooth) {
  list.forEach(d => series.push({
    type: 'line', xAxisIndex: g * 2, yAxisIndex: g * 2, data: d,
    showSymbol: false, smooth: smooth, silent: true,
    lineStyle: { color: color, width: width }, z: 2
  }));
}
function addShared(xs, list, color, width, g, smooth) {
  addPairs(list.map(ys => xs.map((x, i) => [x, ys[i]])), color, width, g, smooth);
}

// top panel (smooth model curves)
addPairs(tRedLeft, RED, 2.4, 0, 0.35);
addShared(tRedRightX, tRedRight, RED, 1.9, 0, 0.35);
addShared(tBlueX, tBlueBand, BLUE, 2.6, 0, 0.35);
addPairs(tBlueFan, BLUE, 1.7, 0, 0.35);
addPairs(tGreenLeft, GREEN, 3, 0, 0.35);
addPairs(tGreenMid, GREEN, 2.6, 0, 0.35);
addPairs(tBlack, BLACK, 1.8, 0, 0.35);

// bottom panel (noisy data)
addShared(bBlueX, bBlue, BLUE, 2.6, 1, false);
addShared(bBlueTailX, bBlueTail, BLUE, 1.8, 1, false);
addShared(bRedLeftX, bRedLeft, RED, 1.6, 1, false);
addShared(bRedRightX, bRedRight, RED, 1.6, 1, false);
addShared(bGreenLeftX, bGreenLeft, GREEN, 2.8, 1, false);
addShared(bGreenMidX, bGreenMid, GREEN, 2.6, 1, false);
addShared(bBlackBaseX, bBlackBase, BLACK, 1.8, 1, false);
addShared(bBlackX, bBlack, BLACK, 1.6, 1, false);

const frame = { show: true, onZero: false, lineStyle: { color: '#3c3c3c', width: 2 } };
function xAx(g, pos, withLabels) {
  return {
    type: 'value', gridIndex: g, position: pos, min: 35, max: 92, z: 5,
    axisLine: frame,
    axisTick: { show: true, inside: true, length: 6, customValues: xTicks, lineStyle: { color: '#3c3c3c', width: 1.5 } },
    axisLabel: withLabels ? { show: true, customValues: xLabels, color: TXT, fontSize: 17, fontFamily: FONT, margin: 11 } : { show: false },
    splitLine: { show: false },
    name: withLabels ? xName : '', nameLocation: 'middle', nameGap: 11, nameMoveOverlap: false,
    nameTextStyle: { color: TXT, fontSize: 17, fontFamily: FONT, verticalAlign: 'top' }
  };
}
function yAx(g, pos, withName) {
  return {
    type: 'value', gridIndex: g, position: pos, min: 0, max: 1, interval: 0.2, z: 5,
    axisLine: frame,
    axisTick: { show: true, inside: true, length: 6, lineStyle: { color: '#3c3c3c', width: 1.5 } },
    axisLabel: { show: false }, splitLine: { show: false },
    name: withName ? yName : '', nameLocation: 'middle', nameGap: 14, nameRotate: 90, nameMoveOverlap: false,
    nameTextStyle: { color: TXT, fontSize: 17, fontFamily: FONT }
  };
}

const chart = echarts.init(document.getElementById('c'), null, { renderer: 'canvas' });
chart.setOption({
  animation: false,
  backgroundColor: '#ffffff',
  grid: [
    { left: 38, top: 9, width: 562, height: 341 },
    { left: 38, top: 428, width: 562, height: 340 }
  ],
  xAxis: [xAx(0, 'bottom', true), xAx(0, 'top', false), xAx(1, 'bottom', true), xAx(1, 'top', false)],
  yAxis: [yAx(0, 'left', true), yAx(0, 'right', false), yAx(1, 'left', true), yAx(1, 'right', false)],
  series: series
});
</script></body></html>
